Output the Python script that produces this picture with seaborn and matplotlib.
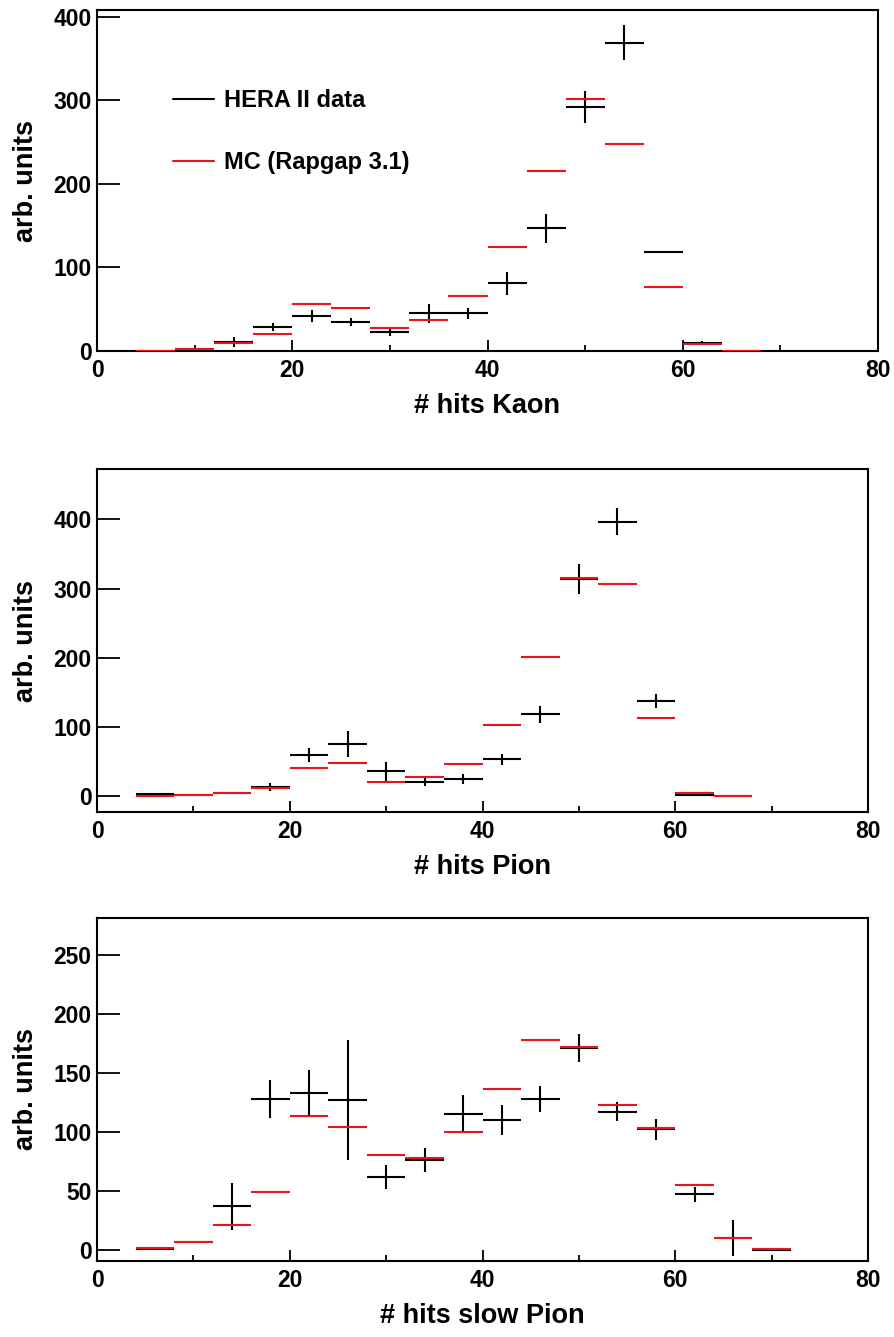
import numpy as np
import matplotlib
matplotlib.use("Agg")
import matplotlib.pyplot as plt
from matplotlib.lines import Line2D
from matplotlib.ticker import MultipleLocator, NullLocator
import seaborn as sns

# ---- histogram contents (bin width 4 hits) ----
kaon_centers = [6, 10, 14, 18, 22, 26, 30, 34, 38, 42, 46, 50, 54, 58, 62, 66]
kaon_data = [0, 2, 11, 29, 42, 35, 23, 45, 45, 81, 147, 292, 369, 119, 10, 0]
kaon_err = [0, 2, 6, 4.5, 7.5, 5, 5, 11, 7, 13.5, 17.5, 19, 21, 0.5, 2, 0]
kaon_mc = [0, 2, 9, 20, 56, 52, 27, 37, 66, 124, 215, 302, 248, 76, 8, 0]

pion_centers = [6, 10, 14, 18, 22, 26, 30, 34, 38, 42, 46, 50, 54, 58, 62, 66]
pion_data = [3, 1, 4, 13, 60, 75, 36, 20, 25, 53, 118, 314, 397, 138, 1, 0]
pion_err = [1, 0.5, 1, 5.5, 10, 19, 14, 6, 7, 8, 13, 22, 19, 10, 0.5, 0]
pion_mc = [0, 1, 4, 12, 40, 48, 21, 27, 46, 103, 201, 315, 307, 113, 5, 0]

slow_centers = [6, 10, 14, 18, 22, 26, 30, 34, 38, 42, 46, 50, 54, 58, 62, 66, 70]
slow_data = [1, 7, 37, 128, 133, 127, 62, 76, 115, 110, 128, 171, 117, 102, 47, 10, 0]
slow_err = [0.5, 1, 20, 16, 19, 51, 10, 10, 16, 13, 11, 12, 8, 9, 6, 15, 0]
slow_mc = [1.4, 6.8, 21, 49, 113, 104, 80, 78, 100, 136, 178, 172, 123, 103, 55, 10, 0.6]

half_width = 2.0

x_titles = ["# hits Kaon", "# hits Pion", "# hits slow Pion"]
y_title = "arb. units"
legend_labels = ["HERA II data", "MC (Rapgap 3.1)"]

sns.set_theme(style="ticks")
plt.rcParams["font.family"] = ["Liberation Sans", "DejaVu Sans"]
plt.rcParams["font.weight"] = "bold"
plt.rcParams["axes.labelweight"] = "bold"
for key in ("text.color", "axes.labelcolor", "xtick.color", "ytick.color",
            "axes.edgecolor"):
    plt.rcParams[key] = "black"

W, H = 894, 1337
fig = plt.figure(figsize=(W / 100, H / 100), dpi=100)
fig.patch.set_facecolor("white")


def rect(l, t, r, b):
    return [l / W, 1 - b / H, (r - l) / W, (b - t) / H]


panels = [
    dict(box=(97, 10, 878, 351), x=kaon_centers, d=kaon_data, e=kaon_err, mc=kaon_mc,
         ylim=(0, 408), ystep=100),
    dict(box=(97, 469, 868, 812), x=pion_centers, d=pion_data, e=pion_err, mc=pion_mc,
         ylim=(-23, 473), ystep=100),
    dict(box=(97, 918, 868, 1261), x=slow_centers, d=slow_data, e=slow_err, mc=slow_mc,
         ylim=(-9.3, 281), ystep=50),
]

DATA_C = "black"
MC_C = "#e8141c"

axes = []
for i, p in enumerate(panels):
    l, t, r, b = p["box"]
    ax = fig.add_axes(rect(l, t, r, b))
    ax.set_facecolor("white")
    ax.errorbar(p["x"], p["d"], xerr=half_width, yerr=p["e"], fmt="none",
                ecolor=DATA_C, elinewidth=1.5, capsize=0, zorder=2)
    ax.errorbar(p["x"], p["mc"], xerr=half_width, fmt="none",
                ecolor=MC_C, elinewidth=1.5, capsize=0, zorder=3)
    ax.set_xlim(0, 80)
    ax.set_ylim(*p["ylim"])
    ax.xaxis.set_major_locator(MultipleLocator(20))
    ax.xaxis.set_minor_locator(MultipleLocator(10))
    ax.yaxis.set_major_locator(MultipleLocator(p["ystep"]))
    ax.yaxis.set_minor_locator(NullLocator())
    ax.tick_params(axis="x", which="major", direction="in", length=8, width=1.3,
                   labelsize=16.5, pad=6, top=False, colors="black")
    ax.tick_params(axis="x", which="minor", direction="in", length=4, width=1.3,
                   top=False)
    ax.tick_params(axis="y", which="major", direction="in", length=16.5, width=1.3,
                   labelsize=16.5, pad=4, right=False, colors="black")
    for s in ax.spines.values():
        s.set_linewidth(1.5)
        s.set_color("black")
    hpx = b - t
    wpx = r - l
    ax.set_xlabel(x_titles[i], fontsize=19.5, fontweight="bold", color="black")
    ax.xaxis.label.set_verticalalignment("center")
    ax.xaxis.set_label_coords(0.5, -55 / hpx)
    ax.set_ylabel(y_title, fontsize=19.5, fontweight="bold", color="black")
    ax.yaxis.set_label_coords(-58 / wpx, 0.5)
    axes.append(ax)

handles = [Line2D([], [], color=DATA_C, lw=1.5), Line2D([], [], color=MC_C, lw=1.5)]
top = axes[0]
top.legend(handles, legend_labels, loc="upper left",
           bbox_to_anchor=((173 - 97) / 781, (351 - 89) / 341),
           bbox_transform=top.transAxes, frameon=False, fontsize=17,
           handlelength=1.75, handletextpad=0.4, labelspacing=1.65,
           borderpad=0, borderaxespad=0)

fig.savefig("out.png", dpi=100, facecolor="white")
